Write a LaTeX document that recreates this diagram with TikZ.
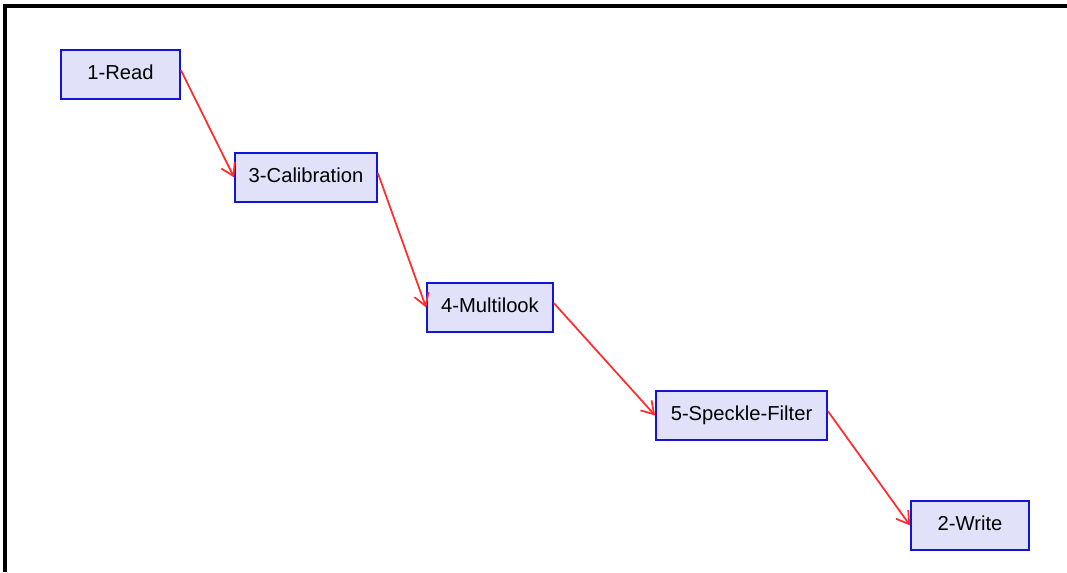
\documentclass[tikz,border=0pt]{standalone}
\usepackage{fontspec}
\setmainfont{Liberation Sans}
\usetikzlibrary{arrows.meta}
\definecolor{myboxfill}{RGB}{225, 225, 250}
\definecolor{myboxline}{RGB}{20, 20, 215}
\definecolor{myflowred}{RGB}{255, 45, 45}

\tikzset{
    opbox/.style={draw=myboxline, fill=myboxfill, line width=1pt, minimum height=0.98cm,
        inner sep=0pt, text depth=0.5ex, font=\fontsize{11.5}{14}\selectfont},
    flow/.style={-{Straight Barb[length=2.4mm, width=3mm]}, myflowred, line width=1pt}
}

\begin{document}
\begin{tikzpicture}[x=0.02cm, y=-0.02cm]
\useasboundingbox (0,0) rectangle (1067,572);
% Frame
\draw[line width=2pt] (5,572) -- (5,6) -- (1067,6);

% Operators
\foreach \name/\x/\y/\w/\txt in {read/120.5/74.5/2.38/1-Read,
        calib/306/177.5/2.84/3-Calibration,
        mlook/490/307.5/2.52/4-Multilook,
        speckle/741.5/415.5/3.42/5-Speckle-Filter,
        write/970/525.5/2.36/2-Write} {
    \node[opbox, minimum width=\w cm] (\name) at (\x,\y) {\txt};
}

% Flow between operators
\foreach \a/\b in {read/calib, calib/mlook, mlook/speckle, speckle/write} {
    \draw[flow] ([yshift=2.5pt]\a.east) -- (\b.west);
}
\end{tikzpicture}
\end{document}
